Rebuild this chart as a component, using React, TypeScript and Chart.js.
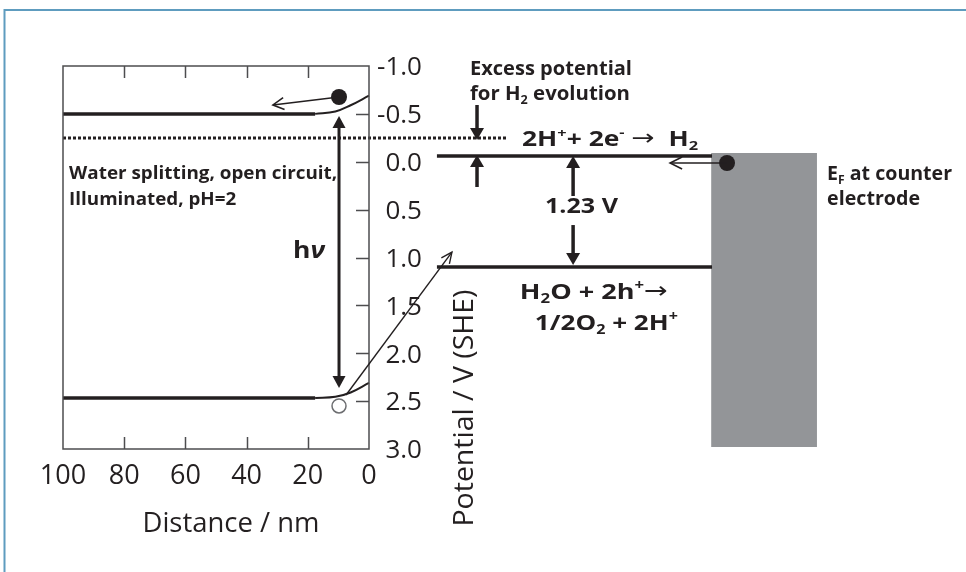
import React, { useEffect, useRef } from "react";
import { Chart, registerables } from "chart.js";
Chart.register(...registerables);

// ---------- data (x: distance / nm, y: potential / V vs SHE) ----------
const distanceTicks = [100, 80, 60, 40, 20, 0];
const distanceTickLabels = ["100", "80", "60", "40", "20", "0"];
const potentialTicks = [-1.0, -0.5, 0.0, 0.5, 1.0, 1.5, 2.0, 2.5, 3.0];
const potentialTickLabels = ["-1.0", "-0.5", "0.0", "0.5", "1.0", "1.5", "2.0", "2.5", "3.0"];

const conductionFlat = [{ x: 100, y: -0.5 }, { x: 17.6, y: -0.5 }];
const conductionBend = [{ x: 17.6, y: -0.5 }, { x: 11, y: -0.525 }, { x: 6, y: -0.59 }, { x: 0, y: -0.69 }];
const valenceFlat = [{ x: 100, y: 2.467 }, { x: 17.6, y: 2.467 }];
const valenceBend = [{ x: 17.6, y: 2.467 }, { x: 11, y: 2.455 }, { x: 6, y: 2.41 }, { x: 0, y: 2.31 }];
const quasiFermi = [{ x: 100, y: -0.248 }, { x: -45.1, y: -0.248 }];
const h2Level = [{ x: -22.2, y: -0.06 }, { x: -112.1, y: -0.06 }];
const o2Level = [{ x: -22.2, y: 1.099 }, { x: -112.1, y: 1.099 }];
const counterElectrodeTop = [{ x: -111.8, y: -0.091 }, { x: -146.4, y: -0.091 }];
const counterElectrodeBottom = 2.979;
const electrons = [{ x: 9.8, y: -0.676 }, { x: -117, y: 0.013 }];
const holes = [{ x: 9.8, y: 2.55 }];

// ---------- annotation layout ----------
const INK = "#231f20";
const FONT = "'Open Sans', 'Noto Sans', sans-serif";

type Run = { t: string; k?: "sub" | "sup" | "it" | "ar" };
type TextItem = { runs: Run[]; x: number; y: number; size: number; weight?: number; w?: number; align?: "left" | "center" | "right" };

const textItems: TextItem[] = [
  { runs: [{ t: "Water splitting, open circuit," }], x: 98.0, y: 0.117, size: 18, weight: 700, w: 268 },
  { runs: [{ t: "Illuminated, pH=2" }], x: 98.0, y: 0.379, size: 18, weight: 700, w: 167 },
  { runs: [{ t: "h" }, { t: "ν", k: "it" }], x: 24.8, y: 0.911, size: 24, weight: 700, w: 32 },
  { runs: [{ t: "Excess potential" }], x: -33.0, y: -0.979, size: 19, weight: 700, w: 162 },
  { runs: [{ t: "for H" }, { t: "2", k: "sub" }, { t: " evolution" }], x: -33.0, y: -0.718, size: 19, weight: 700, w: 160 },
  { runs: [{ t: "2H" }, { t: "+", k: "sup" }, { t: "+ 2e" }, { t: "-", k: "sup" }, { t: " " }, { t: "→", k: "ar" }, { t: "  H" }, { t: "2", k: "sub" }], x: -50.0, y: -0.248, size: 21, weight: 700, w: 176 },
  { runs: [{ t: "1.23 V" }], x: -57.5, y: 0.452, size: 22, weight: 700, w: 73 },
  { runs: [{ t: "H" }, { t: "2", k: "sub" }, { t: "O + 2h" }, { t: "+", k: "sup" }, { t: "→", k: "ar" }], x: -49.3, y: 1.35, size: 22, weight: 700, w: 148 },
  { runs: [{ t: "1/2O" }, { t: "2", k: "sub" }, { t: " + 2H" }, { t: "+", k: "sup" }], x: -54.2, y: 1.674, size: 22, weight: 700, w: 143 },
  { runs: [{ t: "E" }, { t: "F", k: "sub" }, { t: " at counter" }], x: -149.7, y: 0.117, size: 19, weight: 700, w: 125 },
  { runs: [{ t: "electrode" }], x: -149.7, y: 0.379, size: 19, weight: 700, w: 93 },
  { runs: [{ t: "Distance / nm" }], x: 45.1, y: 3.762, size: 28, weight: 400, w: 177, align: "center" },
];

type Arrow = { from: { x: number; y: number }; to: { x: number; y: number }; both?: boolean; open?: boolean; lw: number; len: number; hw: number };
const arrows: Arrow[] = [
  { from: { x: 9.8, y: -0.478 }, to: { x: 9.8, y: 2.363 }, both: true, lw: 3, len: 12, hw: 6.5 },
  { from: { x: -35.3, y: -0.593 }, to: { x: -35.3, y: -0.227 }, lw: 3.5, len: 12, hw: 7 },
  { from: { x: -35.3, y: 0.264 }, to: { x: -35.3, y: -0.07 }, lw: 3.5, len: 12, hw: 7 },
  { from: { x: -66.7, y: 0.358 }, to: { x: -66.7, y: -0.06 }, lw: 3.5, len: 12, hw: 7 },
  { from: { x: -66.7, y: 0.661 }, to: { x: -66.7, y: 1.078 }, lw: 3.5, len: 12, hw: 7 },
  { from: { x: 9.8, y: -0.676 }, to: { x: 31.4, y: -0.593 }, open: true, lw: 1.6, len: 11, hw: 6 },
  { from: { x: -117, y: 0.013 }, to: { x: -98.4, y: 0.013 }, open: true, lw: 1.6, len: 12, hw: 6 },
  { from: { x: 7.5, y: 2.436 }, to: { x: -27.1, y: 0.943 }, open: true, lw: 1.4, len: 11, hw: 5 },
];

function drawRich(ctx: CanvasRenderingContext2D, item: TextItem, px: number, py: number) {
  const size = item.size;
  const weight = item.weight ?? 400;
  const fontFor = (k?: string) => {
    if (k === "ar") return `400 ${size * 1.05}px 'DejaVu Sans', sans-serif`;
    const s = k === "sub" || k === "sup" ? size * 0.62 : size;
    const style = k === "it" ? "italic " : "";
    return `${style}${weight} ${s}px ${FONT}`;
  };
  let total = 0;
  const widths = item.runs.map((r) => {
    ctx.font = fontFor(r.k);
    const w = ctx.measureText(r.t).width;
    total += w;
    return w;
  });
  const target = item.w ?? total;
  const sx = target / total;
  let x0 = px;
  if (item.align === "center") x0 = px - target / 2;
  if (item.align === "right") x0 = px - target;
  const base = py + size * 0.36;
  ctx.save();
  ctx.translate(x0, base);
  ctx.scale(sx, 1);
  ctx.textAlign = "left";
  ctx.textBaseline = "alphabetic";
  ctx.fillStyle = INK;
  let cx = 0;
  item.runs.forEach((r, i) => {
    ctx.font = fontFor(r.k);
    const dy = r.k === "sub" ? size * 0.2 : r.k === "sup" ? -size * 0.42 : r.k === "ar" ? -size * 0.02 : 0;
    ctx.fillText(r.t, cx, dy);
    cx += widths[i];
  });
  ctx.restore();
}

function head(ctx: CanvasRenderingContext2D, tx: number, ty: number, ang: number, len: number, hw: number, open: boolean, lw: number) {
  const bx = tx - Math.cos(ang) * len;
  const by = ty - Math.sin(ang) * len;
  const nx = -Math.sin(ang);
  const ny = Math.cos(ang);
  ctx.beginPath();
  ctx.moveTo(bx + nx * hw, by + ny * hw);
  ctx.lineTo(tx, ty);
  ctx.lineTo(bx - nx * hw, by - ny * hw);
  if (open) {
    ctx.lineWidth = lw;
    ctx.stroke();
  } else {
    ctx.closePath();
    ctx.fill();
  }
}

const diagramPlugin = {
  id: "diagram",
  beforeDraw(chart: any) {
    const ctx = chart.ctx as CanvasRenderingContext2D;
    ctx.save();
    ctx.fillStyle = "#ffffff";
    ctx.fillRect(0, 0, chart.width, chart.height);
    ctx.strokeStyle = "#5e9cbf";
    ctx.lineWidth = 2;
    ctx.beginPath();
    ctx.moveTo(4.5, chart.height);
    ctx.lineTo(4.5, 10);
    ctx.lineTo(chart.width, 10);
    ctx.stroke();
    ctx.restore();
  },
  afterDatasetsDraw(chart: any) {
    const ctx = chart.ctx as CanvasRenderingContext2D;
    const sx = chart.scales.x;
    const sy = chart.scales.y;
    const px = (v: number) => sx.getPixelForValue(v);
    const py = (v: number) => sy.getPixelForValue(v);
    ctx.save();

    // frame of the semiconductor panel
    const L = px(distanceTicks[0]);
    const R = px(distanceTicks[distanceTicks.length - 1]);
    const T = py(potentialTicks[0]);
    const B = py(potentialTicks[potentialTicks.length - 1]);
    ctx.strokeStyle = "#4d4d4f";
    ctx.lineWidth = 1.5;
    ctx.strokeRect(L, T, R - L, B - T);
    ctx.beginPath();
    distanceTicks.slice(1, -1).forEach((t) => {
      const x = Math.round(px(t)) + 0.5;
      ctx.moveTo(x, T);
      ctx.lineTo(x, T + 12);
      ctx.moveTo(x, B);
      ctx.lineTo(x, B - 12);
    });
    potentialTicks.slice(1, -1).forEach((t) => {
      const y = Math.round(py(t)) + 0.5;
      ctx.moveTo(R, y);
      ctx.lineTo(R - 13, y);
    });
    ctx.stroke();

    // tick labels
    ctx.fillStyle = INK;
    distanceTicks.forEach((t, i) => {
      drawRich(ctx, { runs: [{ t: distanceTickLabels[i] }], x: t, y: 3.261, size: 27, align: "center" }, px(t), py(3.261));
    });
    potentialTicks.forEach((t, i) => {
      drawRich(ctx, { runs: [{ t: potentialTickLabels[i] }], x: -17.3, y: t, size: 26, align: "right" }, px(-17.3), py(t));
    });

    // arrows
    ctx.strokeStyle = INK;
    ctx.fillStyle = INK;
    ctx.lineCap = "butt";
    arrows.forEach((a) => {
      const x1 = px(a.from.x), y1 = py(a.from.y), x2 = px(a.to.x), y2 = py(a.to.y);
      const ang = Math.atan2(y2 - y1, x2 - x1);
      const trim = a.open ? 0 : a.len - 1;
      const sx1 = a.both ? x1 + Math.cos(ang) * trim : x1;
      const sy1 = a.both ? y1 + Math.sin(ang) * trim : y1;
      const sx2 = x2 - Math.cos(ang) * trim;
      const sy2 = y2 - Math.sin(ang) * trim;
      ctx.lineWidth = a.lw;
      ctx.beginPath();
      ctx.moveTo(sx1, sy1);
      ctx.lineTo(sx2, sy2);
      ctx.stroke();
      head(ctx, x2, y2, ang, a.len, a.hw, !!a.open, a.lw);
      if (a.both) head(ctx, x1, y1, ang + Math.PI, a.len, a.hw, !!a.open, a.lw);
    });

    // text labels
    textItems.forEach((it) => drawRich(ctx, it, px(it.x), py(it.y)));

    // rotated axis title
    ctx.save();
    ctx.translate(px(-30.7), py(2.572));
    ctx.rotate(-Math.PI / 2);
    drawRich(ctx, { runs: [{ t: "Potential / V (SHE)" }], x: 0, y: 0, size: 27, w: 237, align: "center" }, 0, 0);
    ctx.restore();

    ctx.restore();
  },
};

export default function App() {
  const ref = useRef<HTMLCanvasElement | null>(null);
  useEffect(() => {
    if (!ref.current) return;
    const lineStyle = (lw: number) => ({
      showLine: true,
      borderColor: INK,
      borderWidth: lw,
      pointRadius: 0,
      fill: false,
      order: 5,
    });
    const chart = new Chart(ref.current, {
      type: "line",
      data: {
        datasets: [
          { data: electrons, showLine: false, pointRadius: 8, pointBackgroundColor: INK, pointBorderWidth: 0, order: 0 } as any,
          { data: holes, showLine: false, pointRadius: 7, pointBackgroundColor: "#ffffff", pointBorderColor: "#6d6e71", pointBorderWidth: 1.5, order: 0 } as any,
          { data: conductionFlat, ...lineStyle(3.5) },
          { data: conductionBend, ...lineStyle(2), tension: 0.4 },
          { data: valenceFlat, ...lineStyle(3.5) },
          { data: valenceBend, ...lineStyle(2), tension: 0.4 },
          { data: quasiFermi, ...lineStyle(3), borderDash: [3, 2] },
          { data: h2Level, ...lineStyle(3.5) },
          { data: o2Level, ...lineStyle(3.5) },
          {
            data: counterElectrodeTop,
            showLine: true,
            borderWidth: 0,
            borderColor: "rgba(0,0,0,0)",
            pointRadius: 0,
            backgroundColor: "#939598",
            fill: { value: counterElectrodeBottom },
            order: 10,
          } as any,
        ],
      },
      options: {
        animation: false,
        responsive: false,
        events: [],
        layout: { padding: { left: 63, top: 66, right: 966 - 858.6, bottom: 572 - 449 } },
        scales: {
          x: { type: "linear", min: -160, max: 100, reverse: true, display: false },
          y: { type: "linear", min: -1, max: 3, reverse: true, display: false },
        },
        plugins: { legend: { display: false }, tooltip: { enabled: false } },
      },
      plugins: [diagramPlugin],
    });
    return () => chart.destroy();
  }, []);
  return (
    <div style={{ position: "fixed", left: 0, top: 0, width: 966, height: 572, background: "#fff" }}>
      <canvas ref={ref} width={966} height={572} style={{ display: "block", width: 966, height: 572 }} />
    </div>
  );
}
